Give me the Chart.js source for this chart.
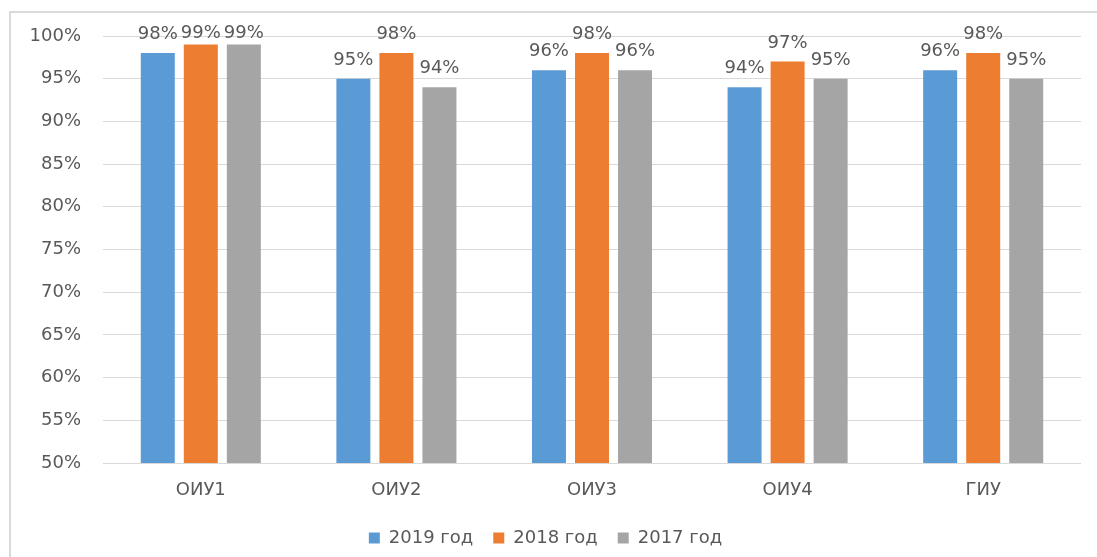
<!DOCTYPE html>
<html>
<head>
<meta charset="utf-8">
<script src="https://cdn.jsdelivr.net/npm/chart.js@4/dist/chart.umd.min.js"></script>
<style>
  html, body { margin: 0; padding: 0; background: #fff; }
  #wrap { position: relative; width: 1097px; height: 557px; overflow: hidden; }
  #frame { position: absolute; left: 9px; top: 11px; width: 1200px; height: 700px;
           border-left: 2px solid #d9d9d9; border-top: 2px solid #d9d9d9; }
  canvas { position: absolute; left: 0; top: 0; }
</style>
</head>
<body>
<div id="wrap">
  <div id="frame"></div>
  <canvas id="myChart" width="1097" height="557"></canvas>
</div>
<script>
const categories = ['ОИУ1', 'ОИУ2', 'ОИУ3', 'ОИУ4', 'ГИУ'];
const seriesNames = ['2019 год', '2018 год', '2017 год'];
const values2019 = [98, 95, 96, 94, 96];
const values2018 = [99, 98, 98, 97, 98];
const values2017 = [99, 94, 96, 95, 95];
const colors = ['#5b9bd5', '#ed7d31', '#a5a5a5'];

const font = "'DejaVu Sans', sans-serif";

// подписи значений над столбцами
const barLabels = {
    id: 'barLabels',
    afterDatasetsDraw(chart) {
        const c = chart.ctx;
        c.save();
        c.font = '18px ' + font;
        c.fillStyle = '#595959';
        c.textAlign = 'center';
        c.textBaseline = 'alphabetic';
        chart.data.datasets.forEach((ds, i) => {
            chart.getDatasetMeta(i).data.forEach((bar, j) => {
                const y = Math.max(bar.y - 14, chart.chartArea.top + 2);
                c.fillText(ds.data[j] + '%', bar.x, y);
            });
        });
        c.restore();
    }
};

const ctx = document.getElementById('myChart').getContext('2d');

const myChart = new Chart(ctx, {
    type: 'bar',
    data: {
        labels: categories,
        datasets: [values2019, values2018, values2017].map((d, i) => ({
            label: seriesNames[i],
            data: d,
            backgroundColor: colors[i],
            categoryPercentage: 0.66,
            barPercentage: 0.79
        }))
    },
    options: {
        responsive: false,
        animation: false,
        layout: {
            padding: { left: 10, top: 36, right: 16, bottom: 0 }
        },
        plugins: {
            legend: {
                position: 'bottom',
                labels: {
                    boxWidth: 11,
                    boxHeight: 11,
                    padding: 20,
                    color: '#595959',
                    font: { family: font, size: 18 }
                }
            },
            tooltip: { enabled: false }
        },
        scales: {
            x: {
                grid: { display: false },
                border: { display: false },
                ticks: {
                    color: '#595959',
                    padding: 9,
                    font: { family: font, size: 18 }
                },
                afterFit(scale) { scale.height = 46; }
            },
            y: {
                min: 50,
                max: 100,
                grid: { color: '#d9d9d9', drawTicks: false },
                border: { display: false },
                ticks: {
                    stepSize: 5,
                    padding: 22,
                    color: '#595959',
                    font: { family: font, size: 18 },
                    callback: v => v + '%'
                },
                afterFit(scale) { scale.width = 93; }
            }
        }
    },
    plugins: [barLabels]
});
</script>
</body>
</html>
